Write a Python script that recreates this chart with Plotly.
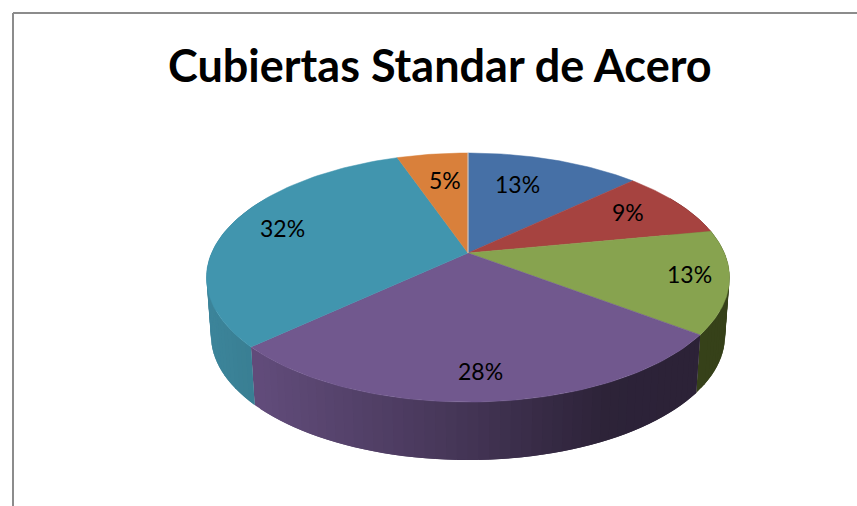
import numpy as np
import plotly.graph_objects as go

# slices, clockwise from 12 o'clock
labels = ["13%", "9%", "13%", "28%", "32%", "5%"]
values = [13, 9, 13.3, 27.8, 31.6, 5.3]
top_colors = ["#4670a6", "#a64340", "#87a34f", "#71588e", "#4195ae", "#d9803b"]
side_colors = ["#2f4a6e", "#6e2c2a", "#364119", "#71588e", "#418fa6", "#8f5427"]

title_text = "Cubiertas Standar de Acero"

# pie geometry in pixels, perspective tilt comes from k
CX, CY = 468, 253
A, B, K = 256.4, 119.7, 0.197
DEPTH = 58
SHRINK = 0.983


def rim(theta, r=1.0):
    s, c = np.sin(theta) * r, np.cos(theta) * r
    w = 1 + K * c
    return CX + A * s / w, CY - B * c / w


def shade(color, f):
    rgb = [int(color[i:i + 2], 16) for i in (1, 3, 5)]
    return "rgb({},{},{})".format(*[int(v * f) for v in rgb])


def side_factor(i, x):
    # purple and teal walls fade towards the right, the rest stay flat
    if i == 3:
        return float(np.interp(x, [258, 450, 600, 700], [0.86, 0.62, 0.40, 0.39]))
    if i == 4:
        return float(np.interp(x, [207, 258], [0.93, 0.88]))
    return 1.0


fig = go.Figure()

edges = np.cumsum([0] + values) / sum(values) * 2 * np.pi

# walls first, the top faces cover whatever is behind them
for i in range(len(values)):
    lo, hi = edges[i], edges[i + 1]
    if hi < np.pi / 3 or lo > 5 * np.pi / 3:
        continue
    lo, hi = max(lo, np.pi / 3), min(hi, 5 * np.pi / 3)
    steps = np.linspace(lo, hi, max(int((hi - lo) * 30), 3))
    for n in range(len(steps) - 1):
        # each strip laps over the previous one so no seams show
        t0, t1 = steps[max(n - 1, 0)], steps[n + 1]
        x0, y0 = rim(t0)
        x1, y1 = rim(t1)
        xs = [x0, x1, CX + (x1 - CX) * SHRINK, CX + (x0 - CX) * SHRINK, x0]
        ys = [y0, y1, y1 + DEPTH, y0 + DEPTH, y0]
        col = shade(side_colors[i], side_factor(i, (x0 + x1) / 2))
        fig.add_trace(go.Scatter(x=xs, y=ys, mode="lines", fill="toself", fillcolor=col,
                                 line=dict(width=0), hoverinfo="skip"))

for i in range(len(values)):
    t = np.linspace(edges[i], edges[i + 1], 80)
    x, y = rim(t)
    xs = [CX] + list(x) + [CX]
    ys = [CY] + list(y) + [CY]
    fig.add_trace(go.Scatter(x=xs, y=ys, mode="lines", fill="toself", fillcolor=top_colors[i],
                             line=dict(color=top_colors[i], width=0.5), hoverinfo="skip"))

# thin highlight on the 12 o'clock edge
fig.add_shape(type="line", x0=CX, y0=CY, x1=CX, y1=CY - 100, line=dict(color="#c9d3e0", width=1))

label_pos = [(517, 184), (628, 212), (689, 274), (480, 371), (282, 228), (445, 180)]
for text, (lx, ly) in zip(labels, label_pos):
    fig.add_annotation(x=lx, y=ly, text=text, showarrow=False,
                       font=dict(family="Lato", size=23, color="black"))

fig.add_annotation(x=440, y=65, text="<b>" + title_text + "</b>", showarrow=False,
                   font=dict(family="Lato", size=45, color="black"))

# chart frame, runs off the right and bottom of the picture
fig.add_shape(type="line", x0=13, y0=506, x1=13, y1=13, line=dict(color="#8c8c8c", width=2))
fig.add_shape(type="line", x0=13, y0=13, x1=857, y1=13, line=dict(color="#8c8c8c", width=2))

fig.update_layout(
    width=857,
    height=506,
    margin=dict(l=0, r=0, t=0, b=0),
    showlegend=False,
    plot_bgcolor="white",
    paper_bgcolor="white",
    xaxis=dict(range=[0, 857], visible=False),
    yaxis=dict(range=[506, 0], visible=False),
)

# the page's default body margin would push the chart 8px off
fig.write_html("out.html", post_script="document.body.style.margin='0';",
               config={"displayModeBar": False})
